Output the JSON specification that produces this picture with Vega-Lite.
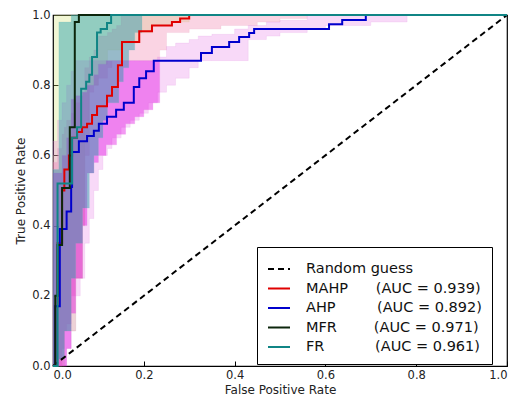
{
  "$schema": "https://vega.github.io/schema/vega-lite/v6.json",
  "width": 454,
  "height": 351,
  "padding": {"left": 14, "top": 9, "right": 0, "bottom": 0},
  "config": {
    "font": "DejaVu Sans",
    "view": {"stroke": "black", "strokeWidth": 1.2},
    "axis": {
      "grid": false,
      "domain": false,
      "tickColor": "black",
      "tickSize": -5,
      "labelPadding": 8,
      "labelFontSize": 11.5,
      "labelColor": "#222",
      "titleFontSize": 12,
      "titleFontWeight": "normal",
      "titleColor": "#222"
    },
    "area": {"interpolate": "step-after", "strokeWidth": 0.5, "strokeOpacity": 0.35}
  },
  "datasets": {
    "curves": [
      {"model": "Random guess", "fpr": 0, "tpr": 0},
      {"model": "Random guess", "fpr": 1, "tpr": 1},
      {"model": "MAHP", "fpr": 0, "tpr": 0},
      {"model": "MAHP", "fpr": 0.005, "tpr": 0.17},
      {"model": "MAHP", "fpr": 0.01, "tpr": 0.35},
      {"model": "MAHP", "fpr": 0.02, "tpr": 0.5},
      {"model": "MAHP", "fpr": 0.025, "tpr": 0.56},
      {"model": "MAHP", "fpr": 0.035, "tpr": 0.6},
      {"model": "MAHP", "fpr": 0.042, "tpr": 0.65},
      {"model": "MAHP", "fpr": 0.053, "tpr": 0.667},
      {"model": "MAHP", "fpr": 0.064, "tpr": 0.68},
      {"model": "MAHP", "fpr": 0.075, "tpr": 0.69},
      {"model": "MAHP", "fpr": 0.086, "tpr": 0.715},
      {"model": "MAHP", "fpr": 0.097, "tpr": 0.74},
      {"model": "MAHP", "fpr": 0.119, "tpr": 0.77},
      {"model": "MAHP", "fpr": 0.13, "tpr": 0.795},
      {"model": "MAHP", "fpr": 0.143, "tpr": 0.857},
      {"model": "MAHP", "fpr": 0.152, "tpr": 0.923},
      {"model": "MAHP", "fpr": 0.19, "tpr": 0.954},
      {"model": "MAHP", "fpr": 0.218, "tpr": 0.97},
      {"model": "MAHP", "fpr": 0.262, "tpr": 0.98},
      {"model": "MAHP", "fpr": 0.28, "tpr": 0.99},
      {"model": "MAHP", "fpr": 0.3, "tpr": 1.0},
      {"model": "MAHP", "fpr": 1, "tpr": 1.0},
      {"model": "AHP", "fpr": 0, "tpr": 0},
      {"model": "AHP", "fpr": 0.005, "tpr": 0.17},
      {"model": "AHP", "fpr": 0.015, "tpr": 0.39},
      {"model": "AHP", "fpr": 0.03, "tpr": 0.44},
      {"model": "AHP", "fpr": 0.04, "tpr": 0.51},
      {"model": "AHP", "fpr": 0.042, "tpr": 0.61},
      {"model": "AHP", "fpr": 0.057, "tpr": 0.64},
      {"model": "AHP", "fpr": 0.075, "tpr": 0.655},
      {"model": "AHP", "fpr": 0.09, "tpr": 0.67},
      {"model": "AHP", "fpr": 0.101, "tpr": 0.69},
      {"model": "AHP", "fpr": 0.119, "tpr": 0.71},
      {"model": "AHP", "fpr": 0.139, "tpr": 0.73},
      {"model": "AHP", "fpr": 0.156, "tpr": 0.75},
      {"model": "AHP", "fpr": 0.178, "tpr": 0.795},
      {"model": "AHP", "fpr": 0.19, "tpr": 0.82},
      {"model": "AHP", "fpr": 0.205, "tpr": 0.84},
      {"model": "AHP", "fpr": 0.222, "tpr": 0.87},
      {"model": "AHP", "fpr": 0.326, "tpr": 0.892},
      {"model": "AHP", "fpr": 0.35, "tpr": 0.909},
      {"model": "AHP", "fpr": 0.388, "tpr": 0.923},
      {"model": "AHP", "fpr": 0.41, "tpr": 0.937},
      {"model": "AHP", "fpr": 0.432, "tpr": 0.949},
      {"model": "AHP", "fpr": 0.443, "tpr": 0.96},
      {"model": "AHP", "fpr": 0.608, "tpr": 0.974},
      {"model": "AHP", "fpr": 0.637, "tpr": 0.986},
      {"model": "AHP", "fpr": 0.689, "tpr": 1.0},
      {"model": "AHP", "fpr": 1, "tpr": 1.0},
      {"model": "MFR", "fpr": 0, "tpr": 0},
      {"model": "MFR", "fpr": 0.005, "tpr": 0.2},
      {"model": "MFR", "fpr": 0.01, "tpr": 0.345},
      {"model": "MFR", "fpr": 0.02, "tpr": 0.507},
      {"model": "MFR", "fpr": 0.037, "tpr": 0.68},
      {"model": "MFR", "fpr": 0.048, "tpr": 0.98},
      {"model": "MFR", "fpr": 0.057, "tpr": 1.0},
      {"model": "MFR", "fpr": 1, "tpr": 1.0},
      {"model": "FR", "fpr": 0, "tpr": 0},
      {"model": "FR", "fpr": 0.01, "tpr": 0.52},
      {"model": "FR", "fpr": 0.042, "tpr": 0.65},
      {"model": "FR", "fpr": 0.053, "tpr": 0.68},
      {"model": "FR", "fpr": 0.062, "tpr": 0.79},
      {"model": "FR", "fpr": 0.073, "tpr": 0.81},
      {"model": "FR", "fpr": 0.08, "tpr": 0.83},
      {"model": "FR", "fpr": 0.086, "tpr": 0.88},
      {"model": "FR", "fpr": 0.097, "tpr": 0.95},
      {"model": "FR", "fpr": 0.105, "tpr": 0.96},
      {"model": "FR", "fpr": 0.119, "tpr": 0.977},
      {"model": "FR", "fpr": 0.128, "tpr": 1.0},
      {"model": "FR", "fpr": 1, "tpr": 1.0}
    ],
    "bands": [
      {"model": "MFR", "fpr": 0, "lo": 0, "hi": 0.6},
      {"model": "MFR", "fpr": 0.003, "lo": 0, "hi": 1},
      {"model": "MFR", "fpr": 0.025, "lo": 0.1, "hi": 1},
      {"model": "MFR", "fpr": 0.05, "lo": 0.25, "hi": 1},
      {"model": "MFR", "fpr": 0.065, "lo": 0.4, "hi": 1},
      {"model": "MFR", "fpr": 0.07, "lo": 0.7, "hi": 1},
      {"model": "MFR", "fpr": 0.08, "lo": 0.8, "hi": 1},
      {"model": "MFR", "fpr": 0.1, "lo": 0.86, "hi": 1},
      {"model": "MFR", "fpr": 0.12, "lo": 0.9, "hi": 1},
      {"model": "MFR", "fpr": 0.15, "lo": 0.92, "hi": 1},
      {"model": "MFR", "fpr": 0.19, "lo": 0.95, "hi": 1},
      {"model": "MFR", "fpr": 0.22, "lo": 0.97, "hi": 1},
      {"model": "MFR", "fpr": 0.26, "lo": 0.98, "hi": 1},
      {"model": "MFR", "fpr": 0.3, "lo": 1, "hi": 1},
      {"model": "MAHP", "fpr": 0, "lo": 0, "hi": 0.58},
      {"model": "MAHP", "fpr": 0.01, "lo": 0, "hi": 0.62},
      {"model": "MAHP", "fpr": 0.02, "lo": 0.05, "hi": 0.66},
      {"model": "MAHP", "fpr": 0.025, "lo": 0.1, "hi": 0.68},
      {"model": "MAHP", "fpr": 0.03, "lo": 0.12, "hi": 0.7},
      {"model": "MAHP", "fpr": 0.04, "lo": 0.2, "hi": 0.72},
      {"model": "MAHP", "fpr": 0.05, "lo": 0.25, "hi": 0.75},
      {"model": "MAHP", "fpr": 0.065, "lo": 0.4, "hi": 0.78},
      {"model": "MAHP", "fpr": 0.07, "lo": 0.6, "hi": 0.85},
      {"model": "MAHP", "fpr": 0.08, "lo": 0.78, "hi": 0.88},
      {"model": "MAHP", "fpr": 0.09, "lo": 0.8, "hi": 0.9},
      {"model": "MAHP", "fpr": 0.1, "lo": 0.82, "hi": 0.94},
      {"model": "MAHP", "fpr": 0.12, "lo": 0.85, "hi": 0.95},
      {"model": "MAHP", "fpr": 0.13, "lo": 0.87, "hi": 0.96},
      {"model": "MAHP", "fpr": 0.14, "lo": 0.87, "hi": 0.97},
      {"model": "MAHP", "fpr": 0.15, "lo": 0.87, "hi": 1},
      {"model": "MAHP", "fpr": 0.235, "lo": 0.9, "hi": 1},
      {"model": "MAHP", "fpr": 0.25, "lo": 0.95, "hi": 1},
      {"model": "MAHP", "fpr": 0.3, "lo": 0.96, "hi": 1},
      {"model": "MAHP", "fpr": 0.37, "lo": 0.97, "hi": 1},
      {"model": "MAHP", "fpr": 0.45, "lo": 0.98, "hi": 1},
      {"model": "MAHP", "fpr": 0.5, "lo": 0.99, "hi": 1},
      {"model": "MAHP", "fpr": 0.56, "lo": 1, "hi": 1},
      {"model": "AHP", "fpr": 0, "lo": 0, "hi": 0.64},
      {"model": "AHP", "fpr": 0.01, "lo": 0, "hi": 0.7},
      {"model": "AHP", "fpr": 0.02, "lo": 0, "hi": 0.75},
      {"model": "AHP", "fpr": 0.03, "lo": 0.05, "hi": 0.8},
      {"model": "AHP", "fpr": 0.04, "lo": 0.1, "hi": 0.84},
      {"model": "AHP", "fpr": 0.05, "lo": 0.2, "hi": 0.87},
      {"model": "AHP", "fpr": 0.06, "lo": 0.25, "hi": 0.87},
      {"model": "AHP", "fpr": 0.07, "lo": 0.35, "hi": 0.87},
      {"model": "AHP", "fpr": 0.08, "lo": 0.42, "hi": 0.87},
      {"model": "AHP", "fpr": 0.09, "lo": 0.5, "hi": 0.87},
      {"model": "AHP", "fpr": 0.1, "lo": 0.56, "hi": 0.87},
      {"model": "AHP", "fpr": 0.11, "lo": 0.6, "hi": 0.87},
      {"model": "AHP", "fpr": 0.12, "lo": 0.62, "hi": 0.87},
      {"model": "AHP", "fpr": 0.13, "lo": 0.65, "hi": 0.87},
      {"model": "AHP", "fpr": 0.15, "lo": 0.68, "hi": 0.87},
      {"model": "AHP", "fpr": 0.17, "lo": 0.7, "hi": 0.87},
      {"model": "AHP", "fpr": 0.19, "lo": 0.72, "hi": 0.87},
      {"model": "AHP", "fpr": 0.21, "lo": 0.75, "hi": 0.87},
      {"model": "AHP", "fpr": 0.23, "lo": 0.78, "hi": 0.88},
      {"model": "AHP", "fpr": 0.25, "lo": 0.8, "hi": 0.91},
      {"model": "AHP", "fpr": 0.27, "lo": 0.82, "hi": 0.92},
      {"model": "AHP", "fpr": 0.3, "lo": 0.85, "hi": 0.93},
      {"model": "AHP", "fpr": 0.32, "lo": 0.87, "hi": 0.94},
      {"model": "AHP", "fpr": 0.35, "lo": 0.87, "hi": 0.945},
      {"model": "AHP", "fpr": 0.4, "lo": 0.87, "hi": 0.96},
      {"model": "AHP", "fpr": 0.43, "lo": 0.93, "hi": 0.97},
      {"model": "AHP", "fpr": 0.47, "lo": 0.94, "hi": 0.98},
      {"model": "AHP", "fpr": 0.5, "lo": 0.95, "hi": 0.985},
      {"model": "AHP", "fpr": 0.56, "lo": 0.96, "hi": 1},
      {"model": "AHP", "fpr": 0.6, "lo": 0.97, "hi": 1},
      {"model": "AHP", "fpr": 0.7, "lo": 0.98, "hi": 1},
      {"model": "AHP", "fpr": 0.78, "lo": 1, "hi": 1},
      {"model": "AHP core", "fpr": 0, "lo": 0, "hi": 0.55},
      {"model": "AHP core", "fpr": 0.02, "lo": 0, "hi": 0.6},
      {"model": "AHP core", "fpr": 0.03, "lo": 0.05, "hi": 0.65},
      {"model": "AHP core", "fpr": 0.04, "lo": 0.15, "hi": 0.76},
      {"model": "AHP core", "fpr": 0.05, "lo": 0.25, "hi": 0.77},
      {"model": "AHP core", "fpr": 0.065, "lo": 0.4, "hi": 0.78},
      {"model": "AHP core", "fpr": 0.075, "lo": 0.55, "hi": 0.8},
      {"model": "AHP core", "fpr": 0.09, "lo": 0.58, "hi": 0.83},
      {"model": "AHP core", "fpr": 0.1, "lo": 0.6, "hi": 0.86},
      {"model": "AHP core", "fpr": 0.117, "lo": 0.63, "hi": 0.87},
      {"model": "AHP core", "fpr": 0.14, "lo": 0.66, "hi": 0.87},
      {"model": "AHP core", "fpr": 0.16, "lo": 0.69, "hi": 0.87},
      {"model": "AHP core", "fpr": 0.18, "lo": 0.71, "hi": 0.87},
      {"model": "AHP core", "fpr": 0.2, "lo": 0.73, "hi": 0.87},
      {"model": "AHP core", "fpr": 0.22, "lo": 0.75, "hi": 0.87},
      {"model": "AHP core", "fpr": 0.235, "lo": 0.87, "hi": 0.87},
      {"model": "FR", "fpr": 0, "lo": 0, "hi": 0.56},
      {"model": "FR", "fpr": 0.01, "lo": 0, "hi": 0.56},
      {"model": "FR", "fpr": 0.013, "lo": 0.02, "hi": 0.98},
      {"model": "FR", "fpr": 0.025, "lo": 0.1, "hi": 0.98},
      {"model": "FR", "fpr": 0.04, "lo": 0.25, "hi": 1},
      {"model": "FR", "fpr": 0.05, "lo": 0.35, "hi": 1},
      {"model": "FR", "fpr": 0.065, "lo": 0.45, "hi": 1},
      {"model": "FR", "fpr": 0.08, "lo": 0.55, "hi": 1},
      {"model": "FR", "fpr": 0.09, "lo": 0.6, "hi": 1},
      {"model": "FR", "fpr": 0.1, "lo": 0.65, "hi": 1},
      {"model": "FR", "fpr": 0.11, "lo": 0.7, "hi": 1},
      {"model": "FR", "fpr": 0.12, "lo": 0.75, "hi": 1},
      {"model": "FR", "fpr": 0.145, "lo": 0.81, "hi": 1},
      {"model": "FR", "fpr": 0.155, "lo": 0.85, "hi": 1},
      {"model": "FR", "fpr": 0.167, "lo": 0.9, "hi": 1},
      {"model": "FR", "fpr": 0.18, "lo": 0.95, "hi": 1},
      {"model": "FR", "fpr": 0.196, "lo": 1, "hi": 1}
    ]
  },
  "layer": [
    {
      "data": {"name": "bands"},
      "transform": [{"filter": "datum.model === 'MFR'"}],
      "mark": {"type": "area", "fill": "#d0e070", "fillOpacity": 0.3, "stroke": "#c8d890"},
      "encoding": {
        "x": {"field": "fpr", "type": "quantitative", "scale": {"domain": [0, 1]},
              "axis": {"title": "False Positive Rate", "values": [0, 0.2, 0.4, 0.6, 0.8, 1], "format": ".1f"}},
        "y": {"field": "lo", "type": "quantitative", "scale": {"domain": [0, 1]},
              "axis": {"title": "True Positive Rate", "values": [0, 0.2, 0.4, 0.6, 0.8, 1], "format": ".1f"}},
        "y2": {"field": "hi"}
      }
    },
    {
      "data": {"name": "bands"},
      "transform": [{"filter": "datum.model === 'MAHP'"}],
      "mark": {"type": "area", "fill": "#f07aa8", "fillOpacity": 0.32, "stroke": "#e8a0c0"},
      "encoding": {
        "x": {"field": "fpr", "type": "quantitative"},
        "y": {"field": "lo", "type": "quantitative"},
        "y2": {"field": "hi"}
      }
    },
    {
      "data": {"name": "bands"},
      "transform": [{"filter": "datum.model === 'AHP'"}],
      "mark": {"type": "area", "fill": "#e050e0", "fillOpacity": 0.22, "stroke": "#e090e0"},
      "encoding": {
        "x": {"field": "fpr", "type": "quantitative"},
        "y": {"field": "lo", "type": "quantitative"},
        "y2": {"field": "hi"}
      }
    },
    {
      "data": {"name": "bands"},
      "transform": [{"filter": "datum.model === 'AHP core'"}],
      "mark": {"type": "area", "fill": "#e000e0", "fillOpacity": 0.4, "stroke": "#e070e0"},
      "encoding": {
        "x": {"field": "fpr", "type": "quantitative"},
        "y": {"field": "lo", "type": "quantitative"},
        "y2": {"field": "hi"}
      }
    },
    {
      "data": {"name": "bands"},
      "transform": [{"filter": "datum.model === 'FR'"}],
      "mark": {"type": "area", "fill": "#209ca8", "fillOpacity": 0.45, "stroke": "#70c0c0"},
      "encoding": {
        "x": {"field": "fpr", "type": "quantitative"},
        "y": {"field": "lo", "type": "quantitative"},
        "y2": {"field": "hi"}
      }
    },
    {
      "data": {"name": "curves"},
      "transform": [{"filter": "datum.model === 'Random guess'"}],
      "mark": {"type": "line", "strokeWidth": 2},
      "encoding": {
        "x": {"field": "fpr", "type": "quantitative"},
        "y": {"field": "tpr", "type": "quantitative"},
        "color": {"field": "model", "type": "nominal",
                  "scale": {"domain": ["Random guess", "MAHP", "AHP", "MFR", "FR"], "range": ["#000000", "#e00000", "#0000cc", "#0c260c", "#108585"]},
                  "legend": {
                    "orient": "none", "legendX": 204, "legendY": 232, "title": null,
                    "strokeColor": "black", "fillColor": "white", "padding": 10, "cornerRadius": 0,
                    "symbolType": "stroke", "symbolStrokeWidth": 2, "symbolSize": 484,
                    "labelFontSize": 14.5, "labelFont": "DejaVu Sans", "labelColor": "#111", "rowPadding": 0.5, "labelOffset": 15, "labelLimit": 300,
                    "labelExpr": "datum.label === 'MAHP' ? 'MAHP\u00a0\u00a0\u00a0\u00a0\u00a0\u00a0(AUC = 0.939)\u00a0\u00a0' : datum.label === 'AHP' ? 'AHP\u00a0\u00a0\u00a0\u00a0\u00a0\u00a0\u00a0\u00a0\u00a0(AUC = 0.892)\u00a0\u00a0' : datum.label === 'MFR' ? 'MFR\u00a0\u00a0\u00a0\u00a0\u00a0\u00a0\u00a0\u00a0(AUC = 0.971)\u00a0\u00a0' : datum.label === 'FR' ? 'FR\u00a0\u00a0\u00a0\u00a0\u00a0\u00a0\u00a0\u00a0\u00a0\u00a0\u00a0(AUC = 0.961)\u00a0\u00a0' : datum.label"
                  }},
        "strokeDash": {"field": "model", "type": "nominal",
                  "scale": {"domain": ["Random guess", "MAHP", "AHP", "MFR", "FR"], "range": [[6, 4], [1, 0], [1, 0], [1, 0], [1, 0]]}}
      }
    },
    {
      "data": {"name": "curves"},
      "transform": [{"filter": "datum.model !== 'Random guess'"}],
      "mark": {"type": "line", "interpolate": "step-after", "strokeWidth": 2},
      "encoding": {
        "x": {"field": "fpr", "type": "quantitative"},
        "y": {"field": "tpr", "type": "quantitative"},
        "color": {"field": "model", "type": "nominal"},
        "strokeDash": {"field": "model", "type": "nominal"}
      }
    }
  ]
}
